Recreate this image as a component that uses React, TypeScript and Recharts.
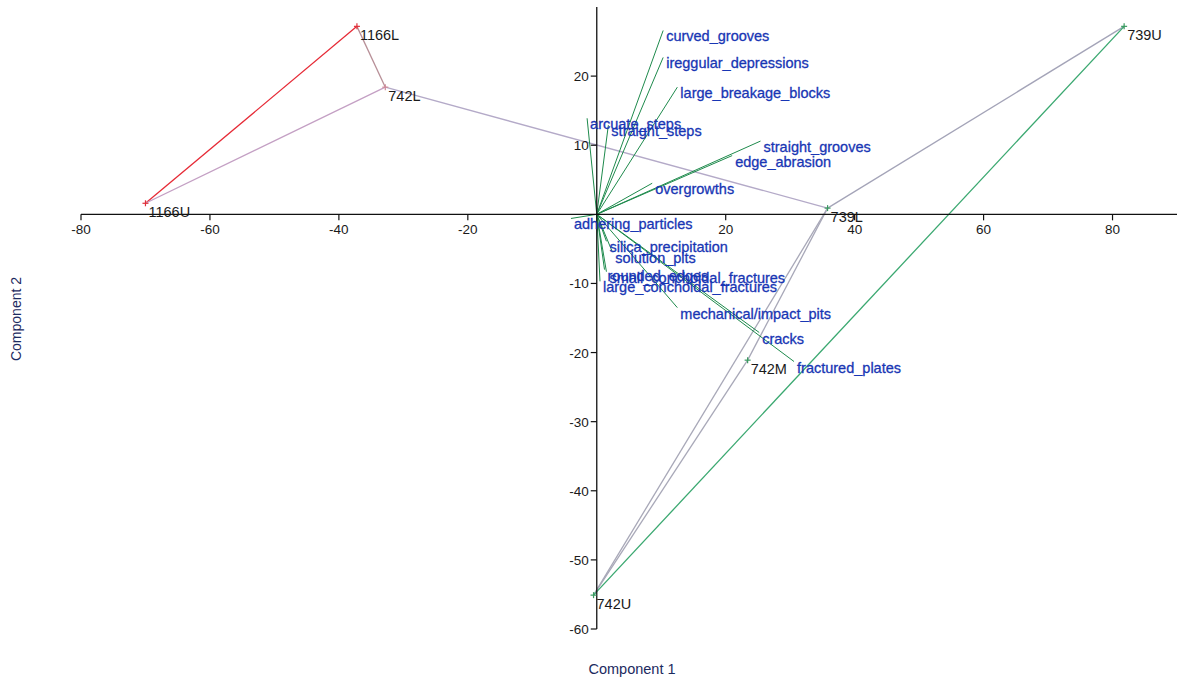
import { ScatterChart, Scatter, XAxis, YAxis, ReferenceLine } from "recharts";

const xTicks = [-80, -60, -40, -20, 20, 40, 60, 80];
const yTicks = [20, 10, -10, -20, -30, -40, -50, -60];

const sampleNames = ["1166L", "742L", "1166U", "739L", "739U", "742M", "742U"];
const sampleX = [-37.2, -32.8, -70, 35.8, 81.8, 23.4, -0.5];
const sampleY = [27.2, 18.4, 1.6, 0.9, 27.2, -21.1, -55.1];
const sampleColors = ["#e0303a", "#d08a9a", "#e0303a", "#3a9a60", "#3a9a60", "#3a9a60", "#3a9a60"];

// links between samples: [from, to, colour]
const links: [string, string, string][] = [
  ["1166U", "1166L", "#e62a36"],
  ["1166L", "742L", "#b89098"],
  ["742L", "1166U", "#c4a0c4"],
  ["742L", "739L", "#b4aac8"],
  ["739L", "739U", "#a4a4b8"],
  ["739L", "742U", "#a8a8b8"],
  ["739L", "742M", "#a8a8b8"],
  ["742M", "742U", "#a8a8b8"],
  ["742U", "739U", "#3aa870"],
];

const varNames = [
  "curved_grooves",
  "ireggular_depressions",
  "large_breakage_blocks",
  "arcuate_steps",
  "straight_steps",
  "straight_grooves",
  "edge_abrasion",
  "overgrowths",
  "adhering_particles",
  "silica_precipitation",
  "solution_pits",
  "rounded_edges",
  "small_conchoidal_fractures",
  "large_conchoidal_fractures",
  "mechanical/impact_pits",
  "cracks",
  "fractured_plates",
];
const varX = [10.3, 10.3, 12.5, -1.5, 1.8, 25.4, 21.0, 8.6, -4.0, 1.5, 2.4, 1.2, 1.5, 0.5, 12.5, 25.2, 30.6];
const varY = [26.6, 22.7, 18.4, 13.9, 12.9, 10.6, 8.5, 4.5, -0.6, -3.9, -5.4, -8.0, -8.3, -9.7, -13.5, -17.1, -21.3];

const FONT = "Arial, 'Liberation Sans', sans-serif";

const samples = sampleNames.map((n, i) => ({ name: n, x: sampleX[i], y: sampleY[i], color: sampleColors[i] }));
const vars = varNames.map((n, i) => ({ name: n, x: varX[i], y: varY[i] }));
const xTickData = xTicks.map((v) => ({ x: v, y: 0 }));
const yTickData = yTicks.map((v) => ({ x: 0, y: v }));

function pos(name: string) {
  const i = sampleNames.indexOf(name);
  return { x: sampleX[i], y: sampleY[i] };
}

const XTick = (p: any) => (
  <g>
    <line x1={p.cx} y1={p.cy} x2={p.cx} y2={p.cy + 6} stroke="#111" strokeWidth={1.2} />
    <text x={p.cx} y={p.cy + 20} textAnchor="middle" fontSize={13.5} fontFamily={FONT} fill="#1a1a1a">
      {p.payload.x}
    </text>
  </g>
);

const YTick = (p: any) => (
  <g>
    <line x1={p.cx} y1={p.cy} x2={p.cx - 6} y2={p.cy} stroke="#111" strokeWidth={1.2} />
    <text x={p.cx - 8} y={p.cy + 5} textAnchor="end" fontSize={13.5} fontFamily={FONT} fill="#1a1a1a">
      {p.payload.y}
    </text>
  </g>
);

const SampleMark = (p: any) => (
  <g>
    <line x1={p.cx - 3} y1={p.cy} x2={p.cx + 3} y2={p.cy} stroke={p.payload.color} strokeWidth={1.2} />
    <line x1={p.cx} y1={p.cy - 3} x2={p.cx} y2={p.cy + 3} stroke={p.payload.color} strokeWidth={1.2} />
    <text x={p.cx + 3} y={p.cy + 14} fontSize={14.5} fontFamily={FONT} fill="#1a1a1a">
      {p.payload.name}
    </text>
  </g>
);

const VarLabel = (p: any) => (
  <text x={p.cx + 3} y={p.cy + 11} fontSize={14.5} fontFamily={FONT} fill="#1836b4" stroke="#1836b4" strokeWidth={0.3}>
    {p.payload.name}
  </text>
);

export default function App() {
  return (
    <div style={{ position: "absolute", left: 0, top: 0, width: 1179, height: 678, background: "#fff" }}>
      <ScatterChart width={1179} height={678} margin={{ top: 7, right: 2, bottom: 49, left: 81 }}>
        <XAxis type="number" dataKey="x" domain={[-80, 90]} hide />
        <YAxis type="number" dataKey="y" domain={[-60, 30]} hide />

        {links.map(([a, b, c], i) => (
          <ReferenceLine key={"l" + i} segment={[pos(a), pos(b)]} stroke={c} strokeWidth={1.3} />
        ))}

        {vars.map((v) => (
          <ReferenceLine key={"v" + v.name} segment={[{ x: 0, y: 0 }, { x: v.x, y: v.y }]} stroke="#1e8a4c" strokeWidth={1} />
        ))}

        <ReferenceLine segment={[{ x: -80, y: 0 }, { x: 90, y: 0 }]} stroke="#111" strokeWidth={1.3} />
        <ReferenceLine segment={[{ x: 0, y: -60 }, { x: 0, y: 30 }]} stroke="#111" strokeWidth={1.3} />

        <Scatter data={xTickData} shape={XTick} isAnimationActive={false} />
        <Scatter data={yTickData} shape={YTick} isAnimationActive={false} />
        <Scatter data={vars} shape={VarLabel} isAnimationActive={false} />
        <Scatter data={samples} shape={SampleMark} isAnimationActive={false} />
      </ScatterChart>
      <div style={{ position: "absolute", left: 632, top: 669, transform: "translate(-50%, -50%)", fontFamily: FONT, fontSize: 14.5, color: "#1c2a60", whiteSpace: "nowrap" }}>
        Component 1
      </div>
      <div style={{ position: "absolute", left: 16, top: 319, transform: "translate(-50%, -50%) rotate(-90deg)", fontFamily: FONT, fontSize: 14, color: "#1c2a60", whiteSpace: "nowrap" }}>
        Component 2
      </div>
    </div>
  );
}
